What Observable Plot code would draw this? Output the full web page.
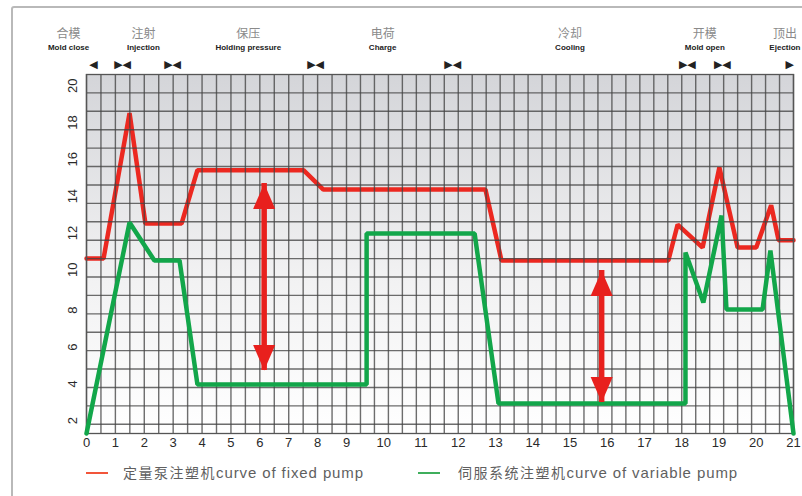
<!DOCTYPE html>
<html><head><meta charset="utf-8">
<script src="https://cdn.jsdelivr.net/npm/d3@7"></script>
<script src="https://cdn.jsdelivr.net/npm/@observablehq/plot@0.6"></script>
<style>
html,body{margin:0;padding:0;background:#fff;width:802px;height:496px;overflow:hidden;position:relative;}
#box{position:absolute;left:11px;top:6px;width:900px;height:600px;border:2px solid #b9b9b9;border-radius:3px;box-sizing:border-box;}
#chart{position:absolute;left:0;top:0;}
#legend{position:absolute;left:0;top:460px;width:802px;height:26px;font-family:"Liberation Sans",Arial,sans-serif;color:#5f5f5f;}
.sw{position:absolute;top:12px;height:2px;}
.lt{position:absolute;top:2px;white-space:nowrap;font-size:15px;letter-spacing:0.9px;}
.cn{font-family:"Noto Sans CJK SC",sans-serif;font-size:14px;letter-spacing:1.5px;}
</style>
</head><body>
<div id="box"></div>
<div id="chart"></div>
<div id="legend">
  <div class="sw" style="left:86px;width:22px;background:#f2553a;"></div>
  <div class="lt" style="left:123px;"><span class="cn">定量泵注塑机</span>curve of fixed pump</div>
  <div class="sw" style="left:418px;width:22px;background:#3fae5c;"></div>
  <div class="lt" style="left:458px;"><span class="cn">伺服系统注塑机</span>curve of variable pump</div>
</div>
<script>
// ---- data ----
const redX   = [0, 0.59, 1.49, 2.04, 3.29, 3.84, 7.51, 8.2, 12.73, 13.16, 17.64, 17.89, 18.56, 19.01, 19.5, 20.0, 20.4, 20.6, 21];
const redY   = [11, 11, 18.9, 12.9, 12.9, 15.8, 15.8, 14.75, 14.75, 10.9, 10.9, 12.85, 11.6, 15.95, 11.6, 11.6, 13.9, 12, 12];
const greenX = [0, 1.49, 2.35, 3.22, 3.84, 9.54, 9.54, 12.44, 13.08, 18.1, 18.1, 18.58, 19.07, 19.2, 20.17, 20.38, 21];
const greenY = [1.5, 12.96, 10.9, 10.9, 4.16, 4.16, 12.36, 12.36, 3.13, 3.13, 11.33, 8.62, 13.34, 8.24, 8.24, 11.44, 1.5];
const arrowX = [6.15, 15.85];
const arrowTop = [15.08, 10.36];
const arrowBottom = [4.92, 3.19];
const phaseX  = [-0.62, 1.97, 5.6, 9.97, 15.0, 18.62, 20.77];
const phaseCN = ["合模", "注射", "保压", "电荷", "冷却", "开模", "顶出"];
const phaseEN = ["Mold close", "Injection", "Holding pressure", "Charge", "Cooling", "Mold open", "Ejection"];
const markX = [0.24, 1.25, 2.98, 7.93, 11.85, 18.15, 19.09, 20.9];
const markS = ["◀", "▶◀", "▶◀", "▶◀", "▶◀", "▶◀", "▶◀", "▶"];
const xTicks = d3.range(0, 22);
const yTicks = d3.range(2, 21, 2);
const gridX = [...d3.range(0, 9, 0.5), ...d3.range(9, 21.001, 0.375)];
const gridY = d3.range(2, 21, 1);

const red = redX.map((x, i) => ({x, y: redY[i]}));
const green = greenX.map((x, i) => ({x, y: greenY[i]}));
const arrows = arrowX.map((x, i) => ({x, top: arrowTop[i], bottom: arrowBottom[i]}));
const phases = phaseX.map((x, i) => ({x, cn: phaseCN[i], en: phaseEN[i]}));
const marks = markX.map((x, i) => ({x, s: markS[i]}));

const headUp = {draw(ctx, size) { const r = Math.sqrt(size / Math.PI); ctx.moveTo(0, 0); ctx.lineTo(1.3 * r, 3 * r); ctx.lineTo(-1.3 * r, 3 * r); ctx.closePath(); }};
const headDown = {draw(ctx, size) { const r = Math.sqrt(size / Math.PI); ctx.moveTo(0, 0); ctx.lineTo(1.3 * r, -3 * r); ctx.lineTo(-1.3 * r, -3 * r); ctx.closePath(); }};

const narrow = '"Liberation Sans Narrow","Liberation Sans",Arial,sans-serif';
const gridStyle = {stroke: "#444", strokeWidth: 1.4, strokeOpacity: 0.78};

const chart = Plot.plot({
  width: 802,
  height: 458,
  marginLeft: 86,
  marginRight: 9,
  marginTop: 74,
  marginBottom: 25,
  style: {background: "transparent", fontFamily: narrow},
  x: {type: "linear", domain: [0, 9, 21], range: [86, 346, 793], axis: null},
  y: {type: "linear", domain: [1.5, 21], range: [433, 74], axis: null},
  marks: [
    Plot.frame({fill: "url(#bg)"}),
    Plot.line(red, {x: "x", y: "y", stroke: "#ec2820", strokeWidth: 4.5, strokeLinejoin: "miter"}),
    Plot.ruleX(gridX, {x: d => d, ...gridStyle}),
    Plot.ruleY(gridY, {y: d => d, ...gridStyle}),
    Plot.frame({stroke: "#555", strokeWidth: 1.3}),
    Plot.line(green, {x: "x", y: "y", stroke: "#12a64a", strokeWidth: 4.5, strokeLinejoin: "miter"}),
    Plot.ruleX(arrows, {x: "x", y1: "top", y2: "bottom", stroke: "#e8201d", strokeWidth: 5.5}),
    Plot.dot(arrows, {x: "x", y: "top", symbol: headUp, r: 8.5, fill: "#e8201d", stroke: null}),
    Plot.dot(arrows, {x: "x", y: "bottom", symbol: headDown, r: 8.5, fill: "#e8201d", stroke: null}),
    Plot.text(yTicks, {y: d => d, text: d => String(d), frameAnchor: "left", dx: -14, rotate: -90, fontSize: 13, fill: "#2a2a2a"}),
    Plot.text(xTicks, {x: d => d, text: d => String(d), frameAnchor: "bottom", dy: 13, fontSize: 13, fill: "#2a2a2a"}),
    Plot.text(phases, {x: "x", text: "cn", frameAnchor: "top", dy: -45, fontSize: 12, fill: "#8a8a8a", fontFamily: '"Noto Sans CJK SC",sans-serif'}),
    Plot.text(phases, {x: "x", text: "en", frameAnchor: "top", dy: -30, fontSize: 8, fontWeight: "bold", fill: "#222", fontFamily: '"Liberation Sans",Arial,sans-serif'}),
    Plot.text(marks, {x: "x", text: "s", frameAnchor: "top", dy: -14, fontSize: 11, fill: "#222", fontFamily: '"DejaVu Sans",sans-serif', letterSpacing: "-1.5px"})
  ]
});
const defs = d3.select(chart).insert("defs", ":first-child");
const g = defs.append("linearGradient").attr("id", "bg").attr("x1", 0).attr("y1", 0).attr("x2", 0).attr("y2", 1);
g.append("stop").attr("offset", "0%").attr("stop-color", "#d4d5d9");
g.append("stop").attr("offset", "55%").attr("stop-color", "#f1f1f2");
g.append("stop").attr("offset", "100%").attr("stop-color", "#ffffff");
document.getElementById("chart").appendChild(chart);
</script>
</body></html>
